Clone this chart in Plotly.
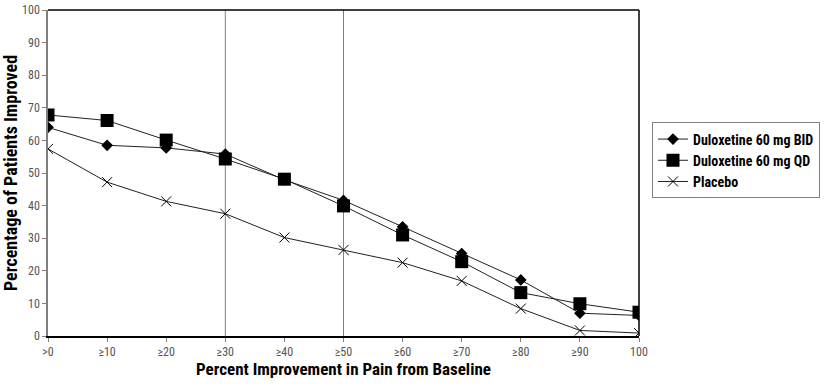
import plotly.graph_objects as go

categories = [">0", "≥10", "≥20", "≥30", "≥40", "≥50", "≥60", "≥70", "≥80", "≥90", "100"]
bid = [64.0, 58.5, 57.7, 55.8, 47.9, 41.6, 33.5, 25.3, 17.2, 7.0, 6.3]
qd = [67.8, 66.1, 60.1, 54.3, 48.1, 39.9, 31.0, 22.8, 13.3, 9.9, 7.3]
placebo = [57.4, 47.2, 41.3, 37.5, 30.2, 26.4, 22.5, 16.9, 8.4, 1.7, 0.9]
y_ticks = [0, 10, 20, 30, 40, 50, 60, 70, 80, 90, 100]
reference_lines = ["≥30", "≥50"]

FONT = "Roboto Condensed, Open Sans Condensed, Liberation Sans Narrow, sans-serif"
xs = list(range(len(categories)))

fig = go.Figure()
fig.add_trace(go.Scatter(x=xs, y=bid, name="Duloxetine 60 mg BID", mode="lines+markers",
                         line=dict(color="#222222", width=1),
                         marker=dict(symbol="diamond", size=9, color="black")))
fig.add_trace(go.Scatter(x=xs, y=qd, name="Duloxetine 60 mg QD", mode="lines+markers",
                         line=dict(color="#222222", width=1),
                         marker=dict(symbol="square", size=13, color="black")))
fig.add_trace(go.Scatter(x=xs, y=placebo, name="Placebo", mode="lines+markers",
                         line=dict(color="#222222", width=1),
                         marker=dict(symbol="x-thin", size=10, color="black",
                                     line=dict(color="black", width=1))))

for c in reference_lines:
    i = categories.index(c)
    fig.add_shape(type="line", xref="x", yref="paper", x0=i, x1=i, y0=0, y1=1,
                  line=dict(color="#808080", width=1), layer="below")

# frame top/right
fig.add_shape(type="line", xref="paper", yref="paper", x0=0, x1=1, y0=1, y1=1,
              line=dict(color="black", width=1.5))
fig.add_shape(type="line", xref="paper", yref="paper", x0=1, x1=1, y0=0, y1=1,
              line=dict(color="black", width=1.5))

fig.update_layout(
    width=827, height=384,
    margin=dict(l=48, r=188, t=10, b=48, autoexpand=False),
    plot_bgcolor="white", paper_bgcolor="white",
    font=dict(family=FONT, color="#333333", size=11),
    showlegend=True,
    legend=dict(x=1.022, y=0.655, xanchor="left", yanchor="top",
                bordercolor="#808080", borderwidth=1,
                font=dict(family=FONT, size=14, color="black", weight="bold"),
                itemwidth=30, tracegroupgap=0),
    xaxis=dict(range=[0, 10], tickmode="array", tickvals=xs, ticktext=categories,
               showgrid=False, zeroline=False, showline=True, linecolor="black", linewidth=1.5,
               ticks="outside", ticklen=4, tickcolor="#808080", automargin=False,
               tickfont=dict(size=12, color="#555555"),
               title=dict(text="Percent Improvement in Pain from Baseline",
                          font=dict(size=17, color="black", weight="bold"), standoff=2)),
    yaxis=dict(range=[0, 100], tickmode="array", tickvals=y_ticks,
               showgrid=False, zeroline=False, showline=True, linecolor="#808080", linewidth=1.5,
               ticks="outside", ticklen=4, tickcolor="#808080", automargin=False,
               tickfont=dict(size=12, color="#555555"),
               title=dict(text="Percentage of Patients Improved",
                          font=dict(size=18, color="black", weight="bold"), standoff=7)),
)

fig.write_html("out.html", config={"displayModeBar": False},
               post_script="document.body.style.margin='0';document.body.style.overflow='hidden';")
